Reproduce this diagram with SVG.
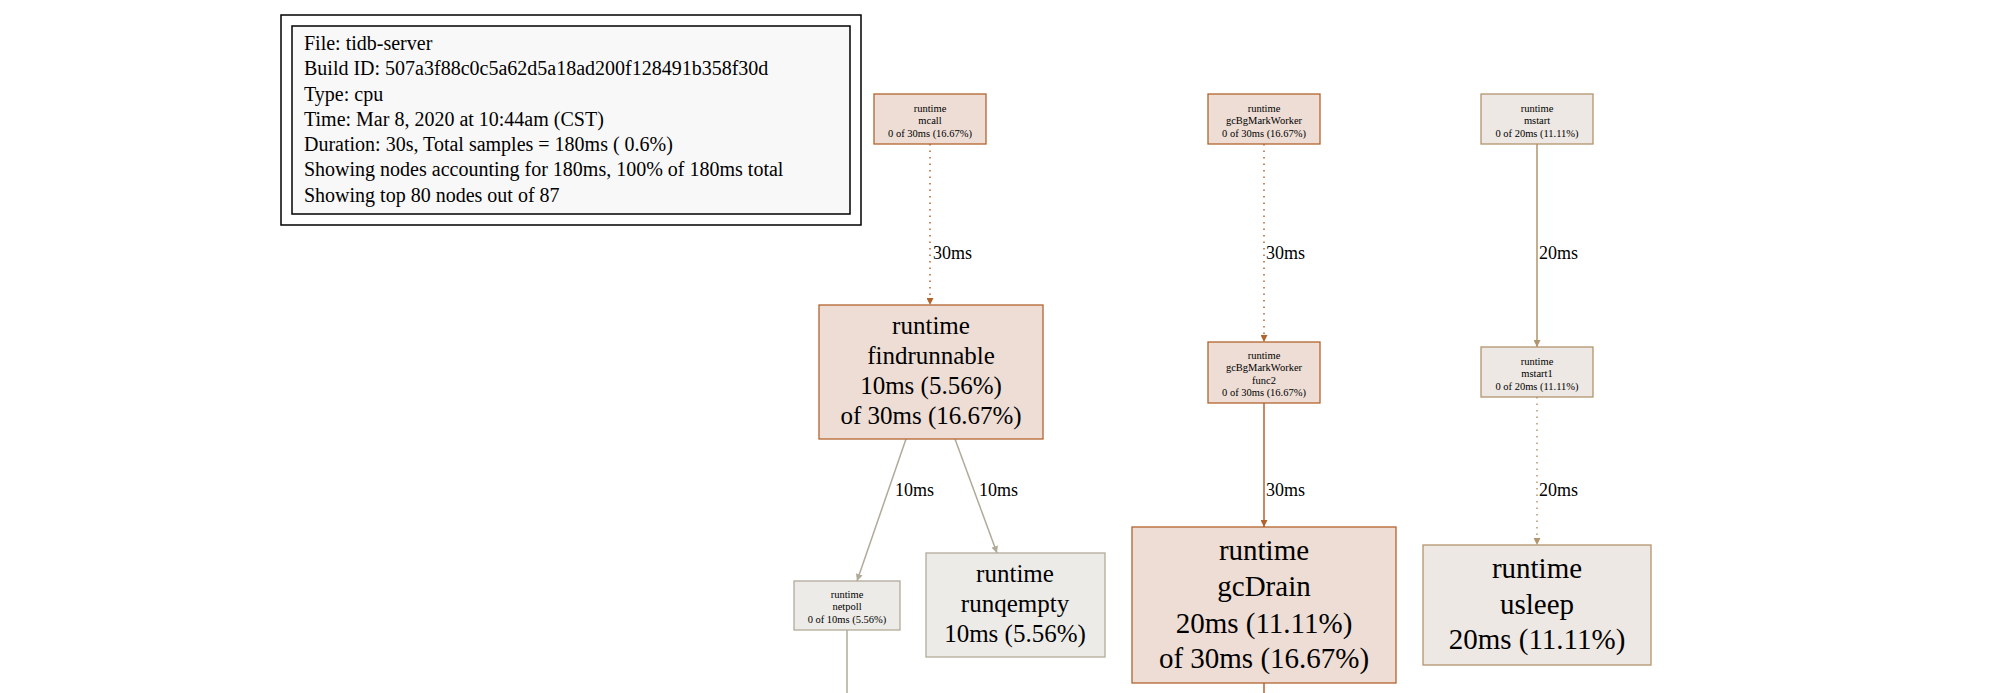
<svg xmlns="http://www.w3.org/2000/svg" width="2001" height="693" viewBox="0 0 2001 693">
<style>
text{font-family:"Liberation Serif","Times New Roman",serif;fill:#000;text-anchor:middle}
.leg{text-anchor:start;font-size:20px}
.s{font-size:10.5px}
.m{font-size:25px}
.l{font-size:29px}
.e{font-size:18px;text-anchor:start}
.r{fill:#edddd5;stroke:#b2642e;stroke-width:1.3}
.t{fill:#ede8e3;stroke:#b2946d;stroke-width:1.3}
.g{fill:#edebe8;stroke:#b2aa99;stroke-width:1.3}
.c{fill:none;stroke-width:1.5}
</style>
<defs>
<marker id="ar" viewBox="0 0 10 10" refX="10" refY="5" markerWidth="7" markerHeight="7" markerUnits="userSpaceOnUse" orient="auto"><path d="M0,0L10,5L0,10z" fill="#b2642e"/></marker>
<marker id="at" viewBox="0 0 10 10" refX="10" refY="5" markerWidth="7" markerHeight="7" markerUnits="userSpaceOnUse" orient="auto"><path d="M0,0L10,5L0,10z" fill="#b2946d"/></marker>
<marker id="ag" viewBox="0 0 10 10" refX="10" refY="5" markerWidth="7" markerHeight="7" markerUnits="userSpaceOnUse" orient="auto"><path d="M0,0L10,5L0,10z" fill="#b2aa99"/></marker>
</defs>
<rect width="2001" height="693" fill="#fff"/>
<g id="legend">
<rect x="281" y="15" width="580" height="210" fill="#fff" stroke="#000" stroke-width="1.5"/>
<rect x="292" y="26" width="558" height="188" fill="#f8f8f8" stroke="#000" stroke-width="1.5"/>
<text class="leg" x="304" y="50">File: tidb-server</text>
<text class="leg" x="304" y="75">Build ID: 507a3f88c0c5a62d5a18ad200f128491b358f30d</text>
<text class="leg" x="304" y="101">Type: cpu</text>
<text class="leg" x="304" y="126">Time: Mar 8, 2020 at 10:44am (CST)</text>
<text class="leg" x="304" y="151">Duration: 30s, Total samples = 180ms (  0.6%)</text>
<text class="leg" x="304" y="176">Showing nodes accounting for 180ms, 100% of 180ms total</text>
<text class="leg" x="304" y="202">Showing top 80 nodes out of 87</text>
</g>
<g id="connectors">
<path class="c" d="M930,144V305" stroke="#b2642e" stroke-dasharray="1.5,5" marker-end="url(#ar)"/>
<text class="e" x="933" y="259">30ms</text>
<path class="c" d="M1264,144V342" stroke="#b2642e" stroke-dasharray="1.5,5" marker-end="url(#ar)"/>
<text class="e" x="1266" y="259">30ms</text>
<path class="c" d="M1537,144V347" stroke="#b2946d" marker-end="url(#at)"/>
<text class="e" x="1539" y="259">20ms</text>
<path class="c" d="M906,439L857,581" stroke="#b2aa99" marker-end="url(#ag)"/>
<text class="e" x="895" y="496">10ms</text>
<path class="c" d="M955,439L997,553" stroke="#b2aa99" marker-end="url(#ag)"/>
<text class="e" x="979" y="496">10ms</text>
<path class="c" d="M1264,403V527" stroke="#b2642e" marker-end="url(#ar)"/>
<text class="e" x="1266" y="496">30ms</text>
<path class="c" d="M1537,397V545" stroke="#b2946d" stroke-dasharray="1.5,5" marker-end="url(#at)"/>
<text class="e" x="1539" y="496">20ms</text>
<path class="c" d="M847,630V693" stroke="#b2aa99"/>
<path class="c" d="M1264,683V693" stroke="#b2642e"/>
</g>
<g id="mcall"><rect class="r" x="874" y="94" width="112" height="50"/>
<text class="s" x="930" y="112">runtime</text><text class="s" x="930" y="124">mcall</text><text class="s" x="930" y="137">0 of 30ms (16.67%)</text></g>
<g id="gcBgMarkWorker"><rect class="r" x="1208" y="94" width="112" height="50"/>
<text class="s" x="1264" y="112">runtime</text><text class="s" x="1264" y="124">gcBgMarkWorker</text><text class="s" x="1264" y="137">0 of 30ms (16.67%)</text></g>
<g id="mstart"><rect class="t" x="1481" y="94" width="112" height="50"/>
<text class="s" x="1537" y="112">runtime</text><text class="s" x="1537" y="124">mstart</text><text class="s" x="1537" y="137">0 of 20ms (11.11%)</text></g>
<g id="findrunnable"><rect class="r" x="819" y="305" width="224" height="134"/>
<text class="m" x="931" y="334">runtime</text><text class="m" x="931" y="364">findrunnable</text><text class="m" x="931" y="394">10ms (5.56%)</text><text class="m" x="931" y="424">of 30ms (16.67%)</text></g>
<g id="gcBgMarkWorkerFunc2"><rect class="r" x="1208" y="342" width="112" height="61"/>
<text class="s" x="1264" y="359">runtime</text><text class="s" x="1264" y="371">gcBgMarkWorker</text><text class="s" x="1264" y="384">func2</text><text class="s" x="1264" y="396">0 of 30ms (16.67%)</text></g>
<g id="mstart1"><rect class="t" x="1481" y="347" width="112" height="50"/>
<text class="s" x="1537" y="365">runtime</text><text class="s" x="1537" y="377">mstart1</text><text class="s" x="1537" y="390">0 of 20ms (11.11%)</text></g>
<g id="netpoll"><rect class="g" x="794" y="581" width="106" height="49"/>
<text class="s" x="847" y="598">runtime</text><text class="s" x="847" y="610">netpoll</text><text class="s" x="847" y="623">0 of 10ms (5.56%)</text></g>
<g id="runqempty"><rect class="g" x="926" y="553" width="179" height="104"/>
<text class="m" x="1015" y="582">runtime</text><text class="m" x="1015" y="612">runqempty</text><text class="m" x="1015" y="642">10ms (5.56%)</text></g>
<g id="gcDrain"><rect class="r" x="1132" y="527" width="264" height="156"/>
<text class="l" x="1264" y="560">runtime</text><text class="l" x="1264" y="596">gcDrain</text><text class="l" x="1264" y="633">20ms (11.11%)</text><text class="l" x="1264" y="668">of 30ms (16.67%)</text></g>
<g id="usleep"><rect class="t" x="1423" y="545" width="228" height="120"/>
<text class="l" x="1537" y="578">runtime</text><text class="l" x="1537" y="614">usleep</text><text class="l" x="1537" y="649">20ms (11.11%)</text></g>
</svg>
